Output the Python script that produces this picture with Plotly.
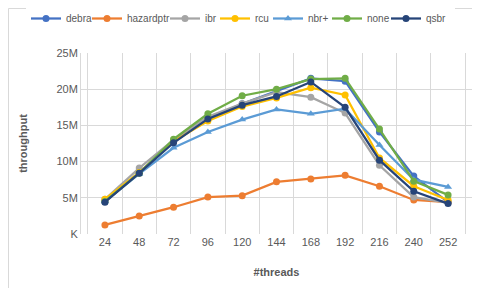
import plotly.graph_objects as go

threads = ["24", "48", "72", "96", "120", "144", "168", "192", "216", "240", "252"]
debra = [4.5, 8.5, 12.8, 16.0, 18.0, 19.7, 21.5, 21.1, 14.1, 8.0, 4.4]
hazardptr = [1.25, 2.5, 3.7, 5.1, 5.3, 7.2, 7.6, 8.1, 6.6, 4.7, 4.4]
ibr = [4.8, 9.1, 13.0, 16.2, 18.0, 19.6, 18.9, 16.7, 9.5, 5.1, 4.3]
rcu = [4.8, 8.5, 12.8, 15.6, 17.6, 18.8, 20.2, 19.2, 10.5, 6.6, 4.7]
nbr_plus = [4.5, 8.3, 11.9, 14.1, 15.8, 17.2, 16.6, 17.3, 12.3, 7.5, 6.5]
none = [4.5, 8.4, 13.1, 16.6, 19.1, 20.0, 21.4, 21.5, 14.5, 7.3, 5.4]
qsbr = [4.4, 8.4, 12.6, 15.9, 17.8, 19.0, 21.0, 17.5, 10.2, 5.9, 4.2]

y_tickvals = [0, 5e6, 10e6, 15e6, 20e6, 25e6]
y_ticktext = ["K", "5M", "10M", "15M", "20M", "25M"]

series = [
    ("debra", debra, "#4472C4", "circle", 16),
    ("hazardptr", hazardptr, "#ED7D31", "circle", 33),
    ("ibr", ibr, "#A5A5A5", "circle", 5),
    ("rcu", rcu, "#FFC000", "circle", 8),
    ("nbr+", nbr_plus, "#5B9BD5", "triangle-up", 14),
    ("none", none, "#70AD47", "circle", 14),
    ("qsbr", qsbr, "#264478", "circle", 24),
]

fig = go.Figure()
for name, vals, color, sym, lw in series:
    fig.add_trace(go.Scatter(
        x=threads, y=[v * 1e6 for v in vals], name=name, mode="lines+markers",
        line=dict(color=color, width=2.25),
        marker=dict(color=color, size=7, symbol=sym),
        legendwidth=lw,
    ))

W, H = 480, 288
L, R, T, B = 73, 16, 45, 62
pw, ph = W - L - R, H - T - B

fig.update_layout(
    width=W, height=H,
    margin=dict(l=L, r=R, t=T, b=B, autoexpand=False),
    paper_bgcolor="white", plot_bgcolor="white",
    font=dict(family="Liberation Sans, Arial, sans-serif", size=11, color="#595959"),
    showlegend=True,
    legend=dict(orientation="h", x=(18 - L) / pw, xanchor="left",
                y=1 + (T + 4) / ph, yanchor="top",
                font=dict(size=10, color="#595959"),
                itemwidth=30, tracegroupgap=0, entrywidthmode="pixels"),
    xaxis=dict(
        type="category", tickson="boundaries", showgrid=True, gridcolor="#D9D9D9",
        gridwidth=1, ticks="", showline=False, zeroline=False,
        tickfont=dict(size=11, color="#595959"),
        title=dict(text="<b>#threads</b>", font=dict(size=11, color="#595959"), standoff=21),
    ),
    yaxis=dict(
        range=[0, 25e6], tickvals=y_tickvals, ticktext=y_ticktext,
        showgrid=True, gridcolor="#D9D9D9", gridwidth=1, zeroline=False,
        showline=True, linecolor="#D9D9D9", ticks="",
        tickfont=dict(size=11, color="#595959"),
        title=dict(text="<b>throughput</b>", font=dict(size=11, color="#595959"), standoff=26),
    ),
    shapes=[dict(type="rect", xref="paper", yref="paper",
                 x0=(-L + 0.5) / pw, x1=1 + (R - 1.5) / pw,
                 y0=(-B + 1.5) / ph, y1=1 + (T - 0.5) / ph,
                 line=dict(color="#D9D9D9", width=1), fillcolor="rgba(0,0,0,0)", layer="below")],
)
fig.write_html("out.html")
